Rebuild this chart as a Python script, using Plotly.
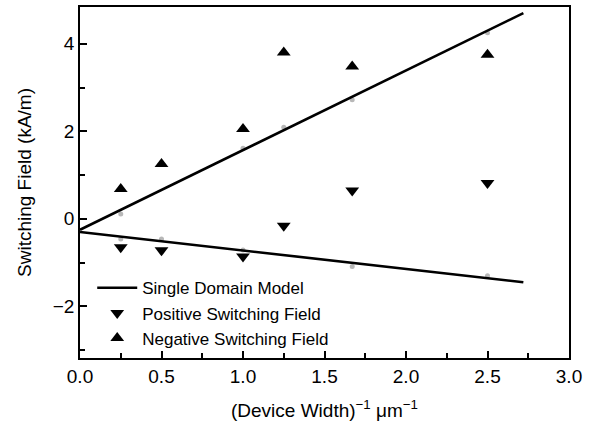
import plotly.graph_objects as go

# Data
x_pts = [0.25, 0.5, 1.0, 1.25, 1.67, 2.5]
neg_field = [0.68, 1.25, 2.05, 3.8, 3.48, 3.75]
pos_field = [-0.65, -0.72, -0.86, -0.16, 0.65, 0.82]

model_x = [0.0, 2.72]
model_upper = [-0.25, 4.70]
model_lower = [-0.30, -1.45]

gray_x = [0.25, 0.25, 0.5, 1.0, 1.0, 1.25, 1.67, 1.67, 2.5, 2.5]
gray_y = [0.11, -0.46, -0.46, 1.61, -0.71, 2.09, 2.72, -1.09, 4.25, -1.30]

FONT = "Liberation Sans, Arial, Helvetica, sans-serif"

fig = go.Figure()

fig.add_trace(go.Scatter(x=gray_x, y=gray_y, mode="markers",
                         marker=dict(symbol="circle", size=5, color="#b8b8b8"),
                         showlegend=False, hoverinfo="skip"))

fig.add_trace(go.Scatter(x=model_x, y=model_upper, mode="lines",
                         line=dict(color="black", width=2.6),
                         name="Single Domain Model"))
fig.add_trace(go.Scatter(x=model_x, y=model_lower, mode="lines",
                         line=dict(color="black", width=2.6),
                         name="Single Domain Model", showlegend=False))

fig.add_trace(go.Scatter(x=x_pts, y=pos_field, mode="markers",
                         marker=dict(symbol="triangle-down", size=12, color="black"),
                         name="Positive Switching Field"))
fig.add_trace(go.Scatter(x=x_pts, y=neg_field, mode="markers",
                         marker=dict(symbol="triangle-up", size=12, color="black"),
                         name="Negative Switching Field"))

axis_common = dict(
    showgrid=False, zeroline=False,
    showline=True, linecolor="black", linewidth=1.5, mirror=True,
    ticks="inside", ticklen=7, tickwidth=1.5, tickcolor="black",
    tickfont=dict(family=FONT, size=19, color="black"),
)

fig.update_xaxes(
    range=[0, 3.0], tickvals=[0, 0.5, 1.0, 1.5, 2.0, 2.5, 3.0], tickformat=".1f",
    minor=dict(tickvals=[0.25, 0.75, 1.25, 1.75, 2.25, 2.75], ticks="inside",
               ticklen=5, tickwidth=1.5, tickcolor="black"),
    title=dict(text="(Device Width)<sup>−1</sup> μm<sup>−1</sup>",
               font=dict(family=FONT, size=19, color="black"), standoff=18),
    **axis_common)

fig.update_yaxes(
    range=[-3.18, 4.84], tickvals=[-2, 0, 2, 4],
    minor=dict(tickvals=[-3, -1, 1, 3], ticks="inside",
               ticklen=5, tickwidth=1.5, tickcolor="black"),
    title=dict(text="Switching Field (kA/m)",
               font=dict(family=FONT, size=19, color="black"), standoff=16),
    **axis_common)

fig.update_layout(
    width=594, height=425,
    margin=dict(l=80, r=25, t=5, b=67),
    plot_bgcolor="white", paper_bgcolor="white",
    legend=dict(x=0.025, y=0.25, xanchor="left", yanchor="top",
                bgcolor="rgba(0,0,0,0)", tracegroupgap=0,
                font=dict(family=FONT, size=17, color="black"),
                itemwidth=40),
)

fig.write_html("out.html", config={"displayModeBar": False},
               post_script="document.body.style.margin='0';")
